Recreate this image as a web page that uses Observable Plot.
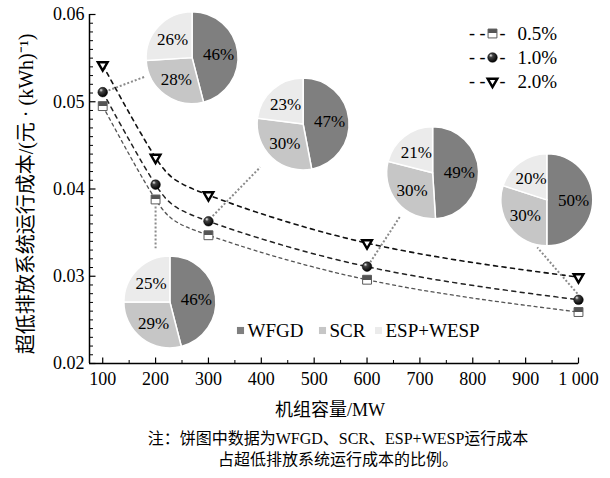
<!DOCTYPE html>
<html><head><meta charset="utf-8">
<script src="https://cdn.jsdelivr.net/npm/d3@7"></script>
<script src="https://cdn.jsdelivr.net/npm/@observablehq/plot@0.6"></script>
<style>
body{margin:0;background:#fff;}
#caption{width:610px;box-sizing:border-box;padding-left:66px;padding-top:8px;text-align:center;font-family:"Liberation Serif","Noto Sans CJK SC",serif;font-size:16px;line-height:21px;color:#000;}
</style></head><body>
<div id="chart"></div>
<div id="caption">注：饼图中数据为WFGD、SCR、ESP+WESP运行成本<br>占超低排放系统运行成本的比例。</div>
<script>
// ---- data ----
const capacity = [100, 200, 300, 600, 1000];
const rates = ["0.5%", "1.0%", "2.0%"];
const cost05 = [0.0495, 0.0388, 0.0347, 0.0296, 0.0259];
const cost10 = [0.0511, 0.0405, 0.0363, 0.0311, 0.0273];
const cost20 = [0.0542, 0.0436, 0.0393, 0.0338, 0.0299];
const components = ["WFGD", "SCR", "ESP+WESP"];
const shareWFGD = [46, 46, 47, 49, 50];
const shareSCR = [28, 29, 30, 30, 30];
const shareESP = [26, 25, 23, 21, 20];
const xTickValues = [100, 200, 300, 400, 500, 600, 700, 800, 900, 1000];
const xTickLabels = ["100", "200", "300", "400", "500", "600", "700", "800", "900", "1 000"];
const yTickValues = [0.02, 0.03, 0.04, 0.05, 0.06];
const yTickLabels = ["0.02", "0.03", "0.04", "0.05", "0.06"];
const xTitle = "机组容量/MW";
const yTitle = "超低排放系统运行成本/(元 · (kWh)⁻¹)";

// ---- layout (data units) ----
const pieCenters = [
  {x: 270, y: 0.0550}, {x: 228, y: 0.0270}, {x: 480, y: 0.0474},
  {x: 725, y: 0.0418}, {x: 941, y: 0.0387}
];
const leaders = [
  {x1: 111, y1: 0.0513, x2: 181, y2: 0.0529},
  {x1: 200, y1: 0.0380, x2: 200, y2: 0.0332},
  {x1: 308, y1: 0.0369, x2: 398, y2: 0.0425},
  {x1: 606, y1: 0.0316, x2: 663, y2: 0.0369},
  {x1: 998, y1: 0.0280, x2: 922, y2: 0.0333}
];
const pieRadius = 46;
const pieColors = ["#7f7f7f", "#c6c6c6", "#ebebeb"];
const FONT = '"Liberation Serif","Noto Sans CJK SC",serif';

const rows = (vals) => capacity.map((c, i) => ({c, v: vals[i]}));
const r05 = rows(cost05), r10 = rows(cost10), r20 = rows(cost20);
const shares = [shareWFGD, shareSCR, shareESP];

const yMinor = d3.range(20, 61).map(d => d / 1000).filter(d => !yTickValues.some(t => Math.abs(t - d) < 1e-9));
const xMinor = d3.range(150, 1000, 100);

const tickRight = len => ({draw(ctx) { ctx.moveTo(0, 0); ctx.lineTo(len, 0); }});
const tickUp = len => ({draw(ctx) { ctx.moveTo(0, 0); ctx.lineTo(0, -len); }});

function defsMark() {
  const d = d3.create("svg:defs");
  const rg = d.append("radialGradient").attr("id", "ball").attr("cx", "40%").attr("cy", "35%").attr("r", "65%").attr("fx", "32%").attr("fy", "28%");
  rg.append("stop").attr("offset", "0").attr("stop-color", "#f0f0f0");
  rg.append("stop").attr("offset", "0.3").attr("stop-color", "#444");
  rg.append("stop").attr("offset", "1").attr("stop-color", "#000");
  const lg = d.append("linearGradient").attr("id", "halfsq").attr("x1", 0).attr("y1", 0).attr("x2", 0).attr("y2", 1);
  lg.append("stop").attr("offset", "0").attr("stop-color", "#555");
  lg.append("stop").attr("offset", "0.5").attr("stop-color", "#555");
  lg.append("stop").attr("offset", "0.5").attr("stop-color", "#fff");
  lg.append("stop").attr("offset", "1").attr("stop-color", "#fff");
  return d.node();
}

function pieMark(index, scales) {
  const g = d3.create("svg:g");
  const pie = d3.pie().sort(null).value(d => d.v);
  const arc = d3.arc().innerRadius(0).outerRadius(pieRadius);
  const lab = d3.arc().innerRadius(pieRadius * 0.58).outerRadius(pieRadius * 0.58);
  capacity.forEach((c, i) => {
    const parts = components.map((k, j) => ({k, v: shares[j][i]}));
    const cg = g.append("g").attr("transform", `translate(${scales.x(pieCenters[i].x)},${scales.y(pieCenters[i].y)})`);
    const arcs = pie(parts);
    cg.selectAll("path").data(arcs).join("path").attr("d", arc)
      .attr("fill", d => pieColors[d.index]).attr("stroke", "#fff").attr("stroke-width", 1.5);
    cg.selectAll("text").data(arcs).join("text")
      .attr("transform", d => `translate(${lab.centroid(d)})`)
      .attr("text-anchor", "middle").attr("dy", "0.35em")
      .attr("font-size", 17).attr("font-family", FONT).attr("fill", "#000")
      .text(d => d.data.v + "%");
  });
  return g.node();
}

const marks = [
  defsMark,
  // axes lines
  Plot.ruleX([75], {stroke: "#000", strokeWidth: 1.5}),
  Plot.ruleY([0.02], {stroke: "#000", strokeWidth: 1.5}),
  // ticks
  Plot.dot(yTickValues, {y: d => d, frameAnchor: "left", symbol: tickRight(6), r: 1, fill: "none", stroke: "#000", strokeWidth: 1.2}),
  Plot.dot(yMinor, {y: d => d, frameAnchor: "left", symbol: tickRight(3.5), r: 1, fill: "none", stroke: "#000", strokeWidth: 1}),
  Plot.dot(xTickValues, {x: d => d, frameAnchor: "bottom", symbol: tickUp(6), r: 1, fill: "none", stroke: "#000", strokeWidth: 1.2}),
  Plot.dot(xMinor, {x: d => d, frameAnchor: "bottom", symbol: tickUp(3.5), r: 1, fill: "none", stroke: "#000", strokeWidth: 1}),
  Plot.axisY(yTickValues, {tickSize: 0, tickPadding: 5, tickFormat: (d, i) => yTickLabels[i], fontSize: 18, label: null}),
  Plot.axisX(xTickValues, {tickSize: 0, tickPadding: 9, tickFormat: (d, i) => xTickLabels[i], fontSize: 18, label: null}),
  Plot.text([xTitle], {frameAnchor: "bottom", lineAnchor: "middle", dx: -4, dy: 47, fontSize: 18}),
  Plot.text([yTitle], {frameAnchor: "left", lineAnchor: "middle", textAnchor: "middle", dx: -63, dy: 5, rotate: -90, fontSize: 20}),
  // fitted dashed curves
  Plot.line(r20, {x: "c", y: "v", curve: "natural", stroke: "#111", strokeWidth: 1.6, strokeDasharray: "4,4.5"}),
  Plot.line(r10, {x: "c", y: "v", curve: "natural", stroke: "#222", strokeWidth: 1.5, strokeDasharray: "4,4.5"}),
  Plot.line(r05, {x: "c", y: "v", curve: "natural", stroke: "#555", strokeWidth: 1.3, strokeDasharray: "3,3.5"}),
  // leaders
  Plot.link(leaders, {x1: "x1", y1: "y1", x2: "x2", y2: "y2", stroke: "#8a8a8a", strokeWidth: 2, strokeDasharray: "2,2"}),
  // markers
  Plot.dot(r20, {x: "c", y: "v", symbol: "triangle", rotate: 180, r: 3.6, fill: "#fff", stroke: "#000", strokeWidth: 2.4}),
  Plot.dot(r10, {x: "c", y: "v", r: 4.8, fill: "url(#ball)", stroke: "#000", strokeWidth: 0.5}),
  Plot.dot(r05, {x: "c", y: "v", symbol: "square", r: 5, fill: "url(#halfsq)", stroke: "#5a5a5a", strokeWidth: 1}),
  // pies
  pieMark
];

// top-right legend
const legendDy = [19, 43, 67];
const legendStyles = [
  {symbol: "square", r: 5, fill: "url(#halfsq)", stroke: "#5a5a5a", strokeWidth: 1},
  {symbol: "circle", r: 4.8, fill: "url(#ball)", stroke: "#000", strokeWidth: 0.5},
  {symbol: "triangle", rotate: 180, r: 3.6, fill: "#fff", stroke: "#000", strokeWidth: 2.4}
];
rates.forEach((rt, i) => {
  marks.push(Plot.text(["- -"], {frameAnchor: "top-right", lineAnchor: "middle", dx: -93, dy: legendDy[i], textAnchor: "end", fontSize: 18}));
  marks.push(Plot.text(["-"], {frameAnchor: "top-right", lineAnchor: "middle", dx: -79, dy: legendDy[i], textAnchor: "start", fontSize: 18}));
  marks.push(Plot.dot([rt], {frameAnchor: "top-right", dx: -86, dy: legendDy[i], ...legendStyles[i]}));
  marks.push(Plot.text([rt], {frameAnchor: "top-right", lineAnchor: "middle", dx: -61, dy: legendDy[i], textAnchor: "start", fontSize: 19}));
});
// bottom pie legend
const pieLegendDx = [151, 233, 289];
components.forEach((k, i) => {
  marks.push(Plot.dot([k], {frameAnchor: "bottom-left", dx: pieLegendDx[i], dy: -33, symbol: "square", r: 4, fill: pieColors[i]}));
  marks.push(Plot.text([k], {frameAnchor: "bottom-left", lineAnchor: "middle", dx: pieLegendDx[i] + 7, dy: -33, textAnchor: "start", fontSize: 19}));
});

const chart = Plot.plot({
  width: 610, height: 420,
  marginLeft: 89, marginRight: 32, marginTop: 14, marginBottom: 57,
  x: {domain: [75, 1000]},
  y: {domain: [0.02, 0.06]},
  style: {fontFamily: FONT, fontSize: "18px", background: "#fff", color: "#000", overflow: "visible"},
  marks
});
document.getElementById("chart").appendChild(chart);
</script>
</body></html>
